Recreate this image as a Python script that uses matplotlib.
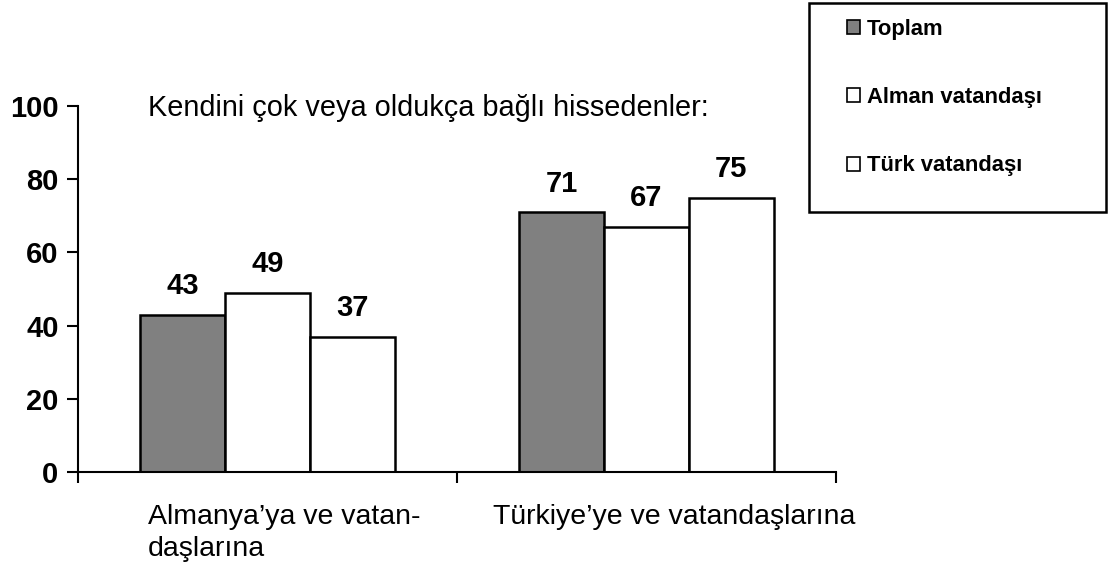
import numpy as np
import matplotlib
matplotlib.use("Agg")
import matplotlib.pyplot as plt
from matplotlib.patches import Patch, Rectangle

# ========== DATA ==========
categories = ["Almanya\u2019ya ve vatan-\nda\u015flar\u0131na", "T\u00fcrkiye\u2019ye ve vatanda\u015flar\u0131na"]
series_names = ["Toplam", "Alman vatanda\u015f\u0131", "T\u00fcrk vatanda\u015f\u0131"]
toplam = [43, 71]
alman = [49, 67]
turk = [37, 75]
yticks = [0, 20, 40, 60, 80, 100]
title = "Kendini \u00e7ok veya olduk\u00e7a ba\u011fl\u0131 hissedenler:"

plt.rcParams['font.family'] = ['Liberation Sans', 'DejaVu Sans']

fig = plt.figure(figsize=(11.1, 5.7), dpi=100)
ax = fig.add_axes([78 / 1110, 98 / 570, (836 - 78) / 1110, (472 - 106) / 570])

x = np.array([0.5, 1.5])
w = 0.224
colors = ["#808080", "white", "white"]
for i, (vals, col) in enumerate(zip([toplam, alman, turk], colors)):
    bars = ax.bar(x + (i - 1) * w, vals, width=w, color=col, edgecolor="black", linewidth=1.8,
                  label=series_names[i], zorder=2)
    for b, v in zip(bars, vals):
        ax.text(b.get_x() + b.get_width() / 2, v + 7.8, str(v), ha="center", va="center",
                fontsize=21, fontweight="bold")

ax.set_xlim(0, 2)
ax.set_ylim(0, 100)
ax.set_yticks(yticks)
ax.set_yticklabels([str(t) for t in yticks], fontsize=21, fontweight="bold")
ax.set_xticks([0, 1, 2])
ax.set_xticklabels([])
ax.tick_params(axis="y", length=8, width=1.5, pad=6)
ax.tick_params(axis="x", length=8, width=1.5)
for s in ["top", "right"]:
    ax.spines[s].set_visible(False)
ax.spines["left"].set_linewidth(1.5)
ax.spines["bottom"].set_linewidth(1.5)
ax.spines["left"].set_bounds(0, 100)

# category labels
fig.text(148 / 1110, 1 - 504 / 570, categories[0], ha="left", va="top", fontsize=20.5, linespacing=1.28)
fig.text(493 / 1110, 1 - 504 / 570, categories[1], ha="left", va="top", fontsize=20.5)

fig.text(148 / 1110, 1 - 108 / 570, title, ha="left", va="center", fontsize=20.8)

# legend box
fig.patches.append(Rectangle((809 / 1110, 1 - 212 / 570), (1106 - 809) / 1110, (212 - 3) / 570,
                             transform=fig.transFigure, fill=False, edgecolor="black", linewidth=1.8))
handles = [Patch(facecolor=c, edgecolor="black", linewidth=1.2) for c in colors]
leg = fig.legend(handles, series_names, loc="upper left", bbox_to_anchor=(847 / 1110, 1 - 19 / 570),
                 frameon=False, prop={"weight": "bold", "size": 15.8},
                 handlelength=0.6, handleheight=0.6, handletextpad=0.3, labelspacing=2.15,
                 borderpad=0, borderaxespad=0)

plt.savefig("out.png", dpi=100, facecolor="white")
